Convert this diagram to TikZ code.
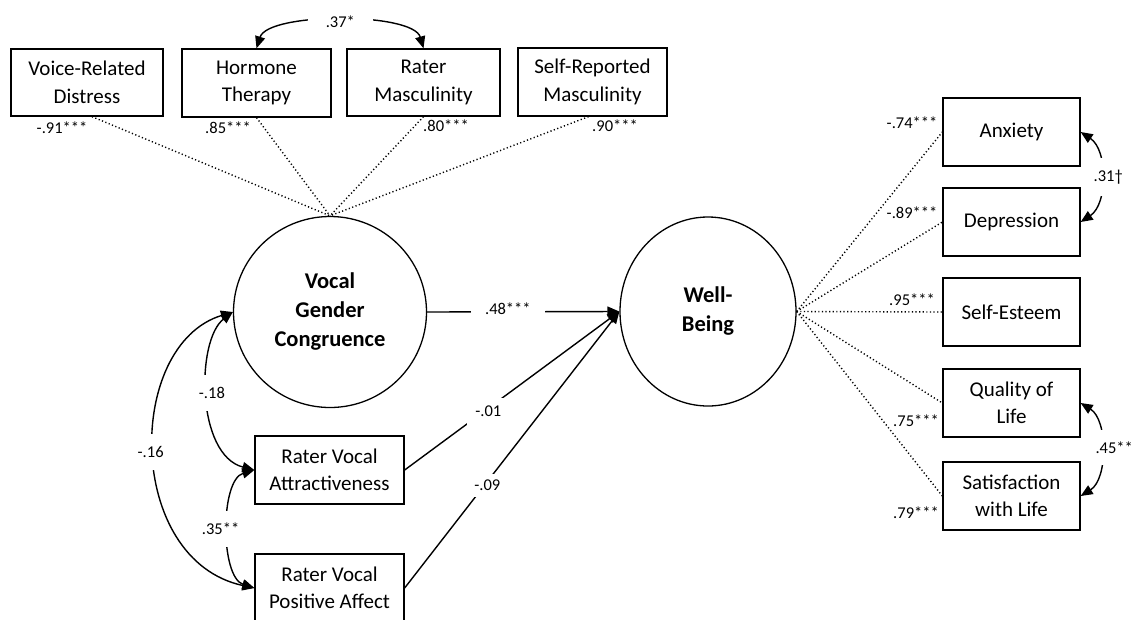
\documentclass[tikz,border=0pt]{standalone}
\usepackage{fontspec}
\setmainfont{Carlito}
\usetikzlibrary{arrows.meta,shapes.geometric}
\begin{document}
\begin{tikzpicture}[x=1pt,y=-1pt,
  box/.style={draw, line width=1.3pt, rectangle, align=center, inner sep=0pt, font={\fontsize{21}{27.5}\selectfont}},
  latent/.style={draw, line width=1.3pt, ellipse, align=center, inner sep=0pt, font={\bfseries\fontsize{22.5}{29}\selectfont}},
  load/.style={line width=1.4pt, dash pattern=on 1.2pt off 2.4pt},
  pth/.style={line width=1.4pt, -{Triangle[length=12pt,width=10pt]}},
  cov/.style={line width=1.4pt, {Triangle[length=12pt,width=10pt]}-{Triangle[length=12pt,width=10pt]}},
  lab/.style={font={\fontsize{16.5}{19}\selectfont}, inner sep=1.5pt},
  vlab/.style={lab, fill=white, inner xsep=2pt, inner ysep=12pt},
  dlab/.style={lab, fill=white, inner sep=8pt}]
\useasboundingbox (0,0) rectangle (1134,619);
\clip (0,0) rectangle (1134,619);

% latent variables
\node[latent, minimum width=193pt, minimum height=191pt] (vgc) at (330,312) {Vocal\\Gender\\Congruence};
\node[latent, minimum width=176pt, minimum height=189pt] (wb) at (708,311.5) {Well-\\Being};

% top indicators
\node[box, minimum width=152pt, minimum height=67pt] (vrd) at (87,82.5) {Voice-Related\\Distress};
\node[box, minimum width=149pt, minimum height=68pt] (ht) at (256.5,83) {Hormone\\Therapy};
\node[box, minimum width=153pt, minimum height=67pt] (rm) at (423.5,82.5) {Rater\\Masculinity};
\node[box, minimum width=149pt, minimum height=68pt] (srm) at (592.5,82) {Self-Reported\\Masculinity};

% predictors
\node[box, minimum width=149pt, minimum height=68pt] (rva) at (329.5,470) {Rater Vocal\\Attractiveness};
\node[box, minimum width=149pt, minimum height=68pt] (rvpa) at (329.5,588) {Rater Vocal\\Positive Affect};

% right indicators
\node[box, minimum width=137pt, minimum height=68pt] (anx) at (1011.5,132) {Anxiety};
\node[box, minimum width=137pt, minimum height=68pt] (dep) at (1011.5,222) {Depression};
\node[box, minimum width=137pt, minimum height=68pt] (se) at (1011.5,312) {Self-Esteem};
\node[box, minimum width=137pt, minimum height=68pt] (qol) at (1011.5,403) {Quality of\\Life};
\node[box, minimum width=137pt, minimum height=68pt] (swl) at (1011.5,496) {Satisfaction\\with Life};

% loadings VGC
\draw[load] (vrd.south) ++(5,0) coordinate (vrdb) -- (vgc.north);
\draw[load] (ht.south) -- (vgc.north);
\draw[load] (rm.south) -- (vgc.north);
\draw[load] (srm.south) ++(-4,0) coordinate (srmb) -- (vgc.north);
\node[lab] (l91) at (62,128) {-.91***};
\node[lab] (l85) at (228,128) {.85***};
\node[lab] (l80) at (446,126) {.80***};
\node[lab] (l90) at (615,126) {.90***};

% loadings WB
\draw[load] (wb.east) -- (anx.west);
\draw[load] (wb.east) -- (dep.west);
\draw[load] (wb.east) -- (se.west);
\draw[load] (wb.east) -- (qol.west);
\draw[load] (wb.east) -- (swl.west);
\node[lab] (l74) at (912,123) {-.74***};
\node[lab] (l89) at (912,213) {-.89***};
\node[lab] (l95) at (912,300) {.95***};
\node[lab] (l75) at (916,421) {.75***};
\node[lab] (l79) at (916,513) {.79***};

% structural paths
\draw[pth] (vgc.east) -- node[lab, fill=white, pos=0.42, inner xsep=14pt, yshift=3pt] {.48***} (wb.west);
\draw[pth] (rva.east) -- node[dlab, pos=0.39, yshift=-3pt] {-.01} (wb.west);
\draw[pth] (rvpa.east) -- node[dlab, pos=0.385, yshift=-4pt, inner sep=6pt] {-.09} (wb.west);

% covariances
\draw[cov] (ht.north) .. controls (268,12) and (413,12) .. node[lab, fill=white, pos=0.5, inner xsep=18pt, inner ysep=4pt, yshift=-1pt] {.37*} (rm.north);
\draw[cov] (vgc.west) .. controls (125,345) and (125,560) .. node[vlab, pos=0.5, xshift=-4pt] {-.16} (rvpa.west);
\draw[cov] (vgc.west) .. controls (196,340) and (196,455) .. node[vlab, pos=0.5, xshift=4pt, yshift=3pt] {-.18} (rva.west);
\draw[cov] (rva.west) .. controls (220,480) and (220,577) .. node[vlab, pos=0.5, xshift=-8pt] {.35**} (rvpa.west);
\draw[cov] (anx.east) .. controls (1108,150) and (1108,204) .. node[vlab, pos=0.5, xshift=7pt] {.31\textdagger} (dep.east);
\draw[cov] (qol.east) .. controls (1108,420) and (1108,479) .. node[vlab, pos=0.5, xshift=13pt, yshift=2pt] {.45**} (swl.east);
\end{tikzpicture}
\end{document}
